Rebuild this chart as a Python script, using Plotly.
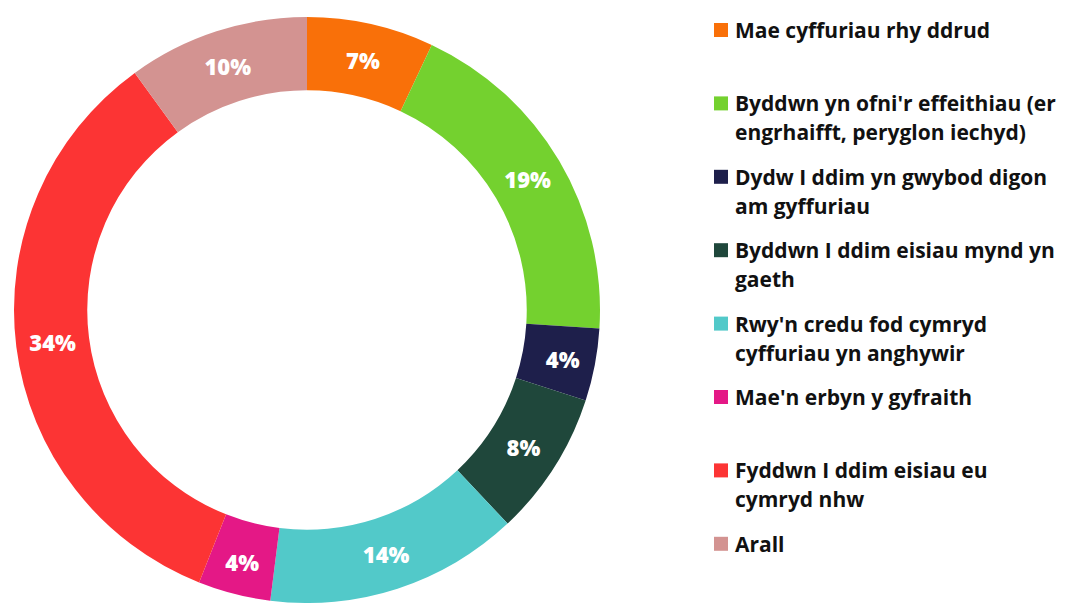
import plotly.graph_objects as go

labels = [
    "Mae cyffuriau rhy ddrud",
    "Byddwn yn ofni'r effeithiau (er<br>engrhaifft, peryglon iechyd)",
    "Dydw I ddim yn gwybod digon<br>am gyffuriau",
    "Byddwn I ddim eisiau mynd yn<br>gaeth",
    "Rwy'n credu fod cymryd<br>cyffuriau yn anghywir",
    "Mae'n erbyn y gyfraith",
    "Fyddwn I ddim eisiau eu<br>cymryd nhw",
    "Arall",
]
values = [7, 19, 4, 8, 14, 4, 34, 10]
colors = ["#F97009", "#74D12F", "#1E1F4B", "#1F473B", "#52C9C9", "#E41886", "#FC3434", "#D39391"]

OFF = 8  # page body margin offset
W, H = 1071 - OFF, 603 - OFF


def px(x):
    return (x - OFF) / W


def py(y):
    return 1 - (y - OFF) / H


# donut geometry (page pixels)
CX, CY, R = 307, 311, 294

fig = go.Figure(go.Pie(
    labels=[l.replace("<br>", " ") for l in labels],
    values=values,
    hole=0.75,
    sort=False,
    direction="clockwise",
    rotation=0,
    marker=dict(colors=colors, line=dict(width=0)),
    texttemplate="%{value}%",
    textposition="inside",
    insidetextorientation="horizontal",
    textfont=dict(family="Open Sans", size=22, color="white", weight=800),
    domain=dict(x=[px(CX - R), px(CX + R)], y=[max(0, py(CY + R)), py(CY - R)]),
    hoverinfo="label+percent",
    showlegend=False,
))

# legend drawn as shapes + annotations
LEG_X0 = 714
SQ = 14
TEXT_X = 733
Y0 = 30
SLOT = 73.4
LINE = 29

shapes = []
annotations = []
for i, (lab, col) in enumerate(zip(labels, colors)):
    yc = Y0 + i * SLOT
    shapes.append(dict(
        type="rect", xref="paper", yref="paper",
        x0=px(LEG_X0), x1=px(LEG_X0 + SQ), y0=py(yc + SQ / 2), y1=py(yc - SQ / 2),
        fillcolor=col, line=dict(width=0),
    ))
    for j, line in enumerate(lab.split("<br>")):
        annotations.append(dict(
            xref="paper", yref="paper", x=px(TEXT_X), y=py(yc + j * LINE),
            xanchor="left", yanchor="middle", text=line, showarrow=False,
            font=dict(family="Open Sans", size=21, color="#111111", weight=700),
        ))

fig.update_layout(
    width=W,
    height=H,
    margin=dict(l=0, r=0, t=0, b=0),
    paper_bgcolor="white",
    plot_bgcolor="white",
    showlegend=False,
    shapes=shapes,
    annotations=annotations,
)

fig.write_html("out.html")
